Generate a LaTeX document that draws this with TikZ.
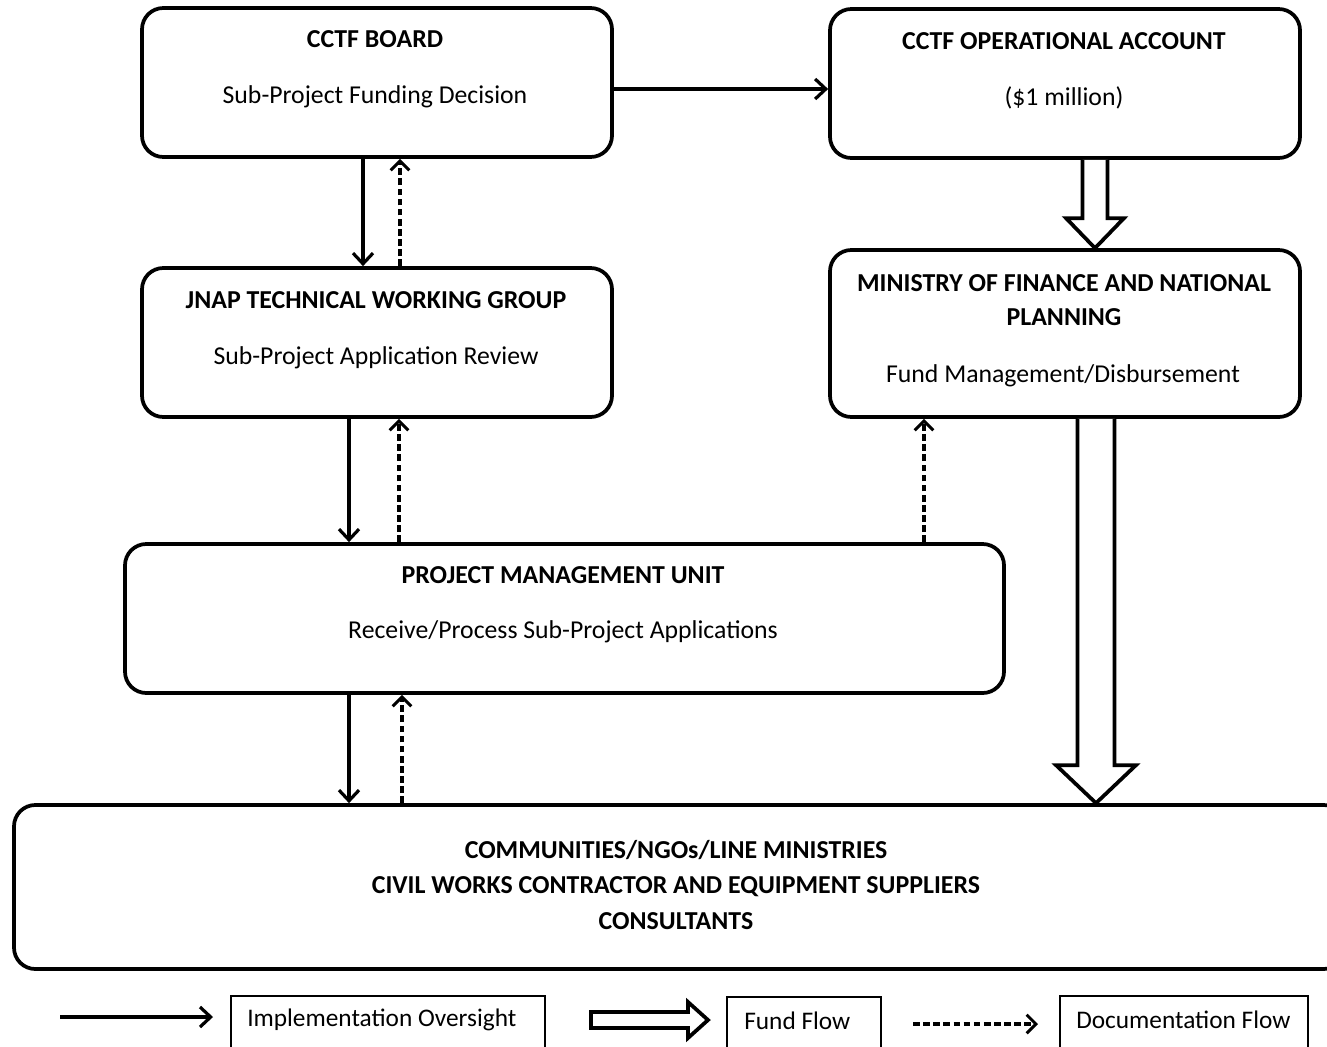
\documentclass[tikz,border=0pt]{standalone}
\usepackage{fontspec}
\setmainfont{Carlito}
\usetikzlibrary{arrows.meta,fit,calc}
\begin{document}
\begin{tikzpicture}[x=0.75pt,y=-0.75pt,
  box/.style={draw, line width=2.8pt, rounded corners=16pt, inner sep=0pt},
  legbox/.style={draw, line width=1pt, inner sep=0pt},
  ttl/.style={font=\fontsize{19.4}{24}\selectfont\bfseries, inner sep=0pt, align=center},
  sub/.style={font=\fontsize{19.3}{24}\selectfont, inner sep=0pt},
  legtxt/.style={font=\fontsize{19}{24}\selectfont, inner sep=0pt},
  impl/.style={line width=2.8pt, -{Straight Barb[length=8pt,width=15pt,line width=2.4pt]}},
  docu/.style={line width=2.4pt, dash pattern=on 5pt off 2.6pt, -{Straight Barb[length=7pt,width=14pt,line width=2.2pt]}},
  fund/.style={draw, line width=2.8pt, fill=white, line join=miter}
]
\useasboundingbox (0,0) rectangle (1327,1046);

% boxes
\node[box, fit={(142,8)(612,157)}] (board) {};
\node[box, fit={(830,9)(1300,158)}] (opacc) {};
\node[box, fit={(142,268)(612,417)}] (jnap) {};
\node[box, fit={(830,250)(1300,417)}] (mof) {};
\node[box, fit={(125,544)(1004,693)}] (pmu) {};
\node[box, fit={(14,805)(1345,969)}] (comm) {};

% texts
\node[ttl] (t1) at (375,39) {CCTF BOARD};
\node[sub] (s1) at (375,97) {Sub-Project Funding Decision};
\node[ttl] (t2) at (1064,41) {CCTF OPERATIONAL ACCOUNT};
\node[sub] (s2) at (1064,98) {(\$1 million)};
\node[ttl] (t3) at (376,300) {JNAP TECHNICAL WORKING GROUP};
\node[sub] (s3) at (376,358) {Sub-Project Application Review};
\node[ttl, font=\fontsize{19.4}{25.5}\selectfont\bfseries] (t4) at (1064,300) {MINISTRY OF FINANCE AND NATIONAL\\PLANNING};
\node[sub] (s4) at (1063,376) {Fund Management/Disbursement};
\node[ttl] (t5) at (563,575) {PROJECT MANAGEMENT UNIT};
\node[sub] (s5) at (563,632) {Receive/Process Sub-Project Applications};
\node[ttl, font=\fontsize{19.4}{26.6}\selectfont\bfseries] (t6) at (676,885) {COMMUNITIES/NGOs/LINE MINISTRIES\\CIVIL WORKS CONTRACTOR AND EQUIPMENT SUPPLIERS\\CONSULTANTS};

% implementation oversight arrows
\draw[impl] (board.east |- 0,89) -- (opacc.west |- 0,89);
\draw[impl] (363,0 |- board.south) -- (363,0 |- jnap.north);
\draw[impl] (349,0 |- jnap.south) -- (349,0 |- pmu.north);
\draw[impl] (349,0 |- pmu.south) -- (349,0 |- comm.north);

% documentation arrows
\draw[docu] (400,0 |- jnap.north) -- (400,0 |- board.south);
\draw[docu] (399,0 |- pmu.north) -- (399,0 |- jnap.south);
\draw[docu] (924,0 |- pmu.north) -- (924,0 |- mof.south);
\draw[docu] (402,0 |- comm.north) -- (402,0 |- pmu.south);

% fund flow arrows
\coordinate (fa) at (1095,0 |- opacc.south);
\coordinate (fb) at (1095,0 |- mof.north);
\path[fund] ($(fa)+(-12.5,0)$) -- ($(fb)+(-12.5,-30)$) -- ($(fb)+(-29,-30)$) -- (fb) -- ($(fb)+(29,-30)$) -- ($(fb)+(12.5,-30)$) -- ($(fa)+(12.5,0)$);
\coordinate (fc) at (1096,0 |- mof.south);
\coordinate (fd) at (1096,0 |- comm.north);
\path[fund] ($(fc)+(-18.5,0)$) -- ($(fd)+(-18.5,-38)$) -- ($(fd)+(-40,-38)$) -- (fd) -- ($(fd)+(40,-38)$) -- ($(fd)+(18.5,-38)$) -- ($(fc)+(18.5,0)$);

% legend
\coordinate (l1a) at (60,1017);
\coordinate (l1b) at (213,1017);
\draw[impl] (l1a) -- (l1b);
\node[legbox, fit={(231,996)(545,1060)}] (lb1) {};
\node[legtxt, anchor=west] (lt1) at (247,1020) {Implementation Oversight};
\coordinate (l2a) at (591,1020);
\coordinate (l2b) at (708,1020);
\path[fund] ($(l2a)+(0,-8)$) -- ($(l2b)+(-20,-8)$) -- ($(l2b)+(-20,-18)$) -- (l2b) -- ($(l2b)+(-20,18)$) -- ($(l2b)+(-20,8)$) -- ($(l2a)+(0,8)$) -- cycle;
\node[legbox, fit={(727,997)(881,1060)}] (lb2) {};
\node[legtxt, anchor=west] (lt2) at (744,1021) {Fund Flow};
\coordinate (l3a) at (913,1024);
\coordinate (l3b) at (1038,1024);
\draw[docu] (l3a) -- (l3b);
\node[legbox, fit={(1060,996)(1308,1060)}] (lb3) {};
\node[legtxt, anchor=west] (lt3) at (1076,1020) {Documentation Flow};
\end{tikzpicture}
\end{document}
